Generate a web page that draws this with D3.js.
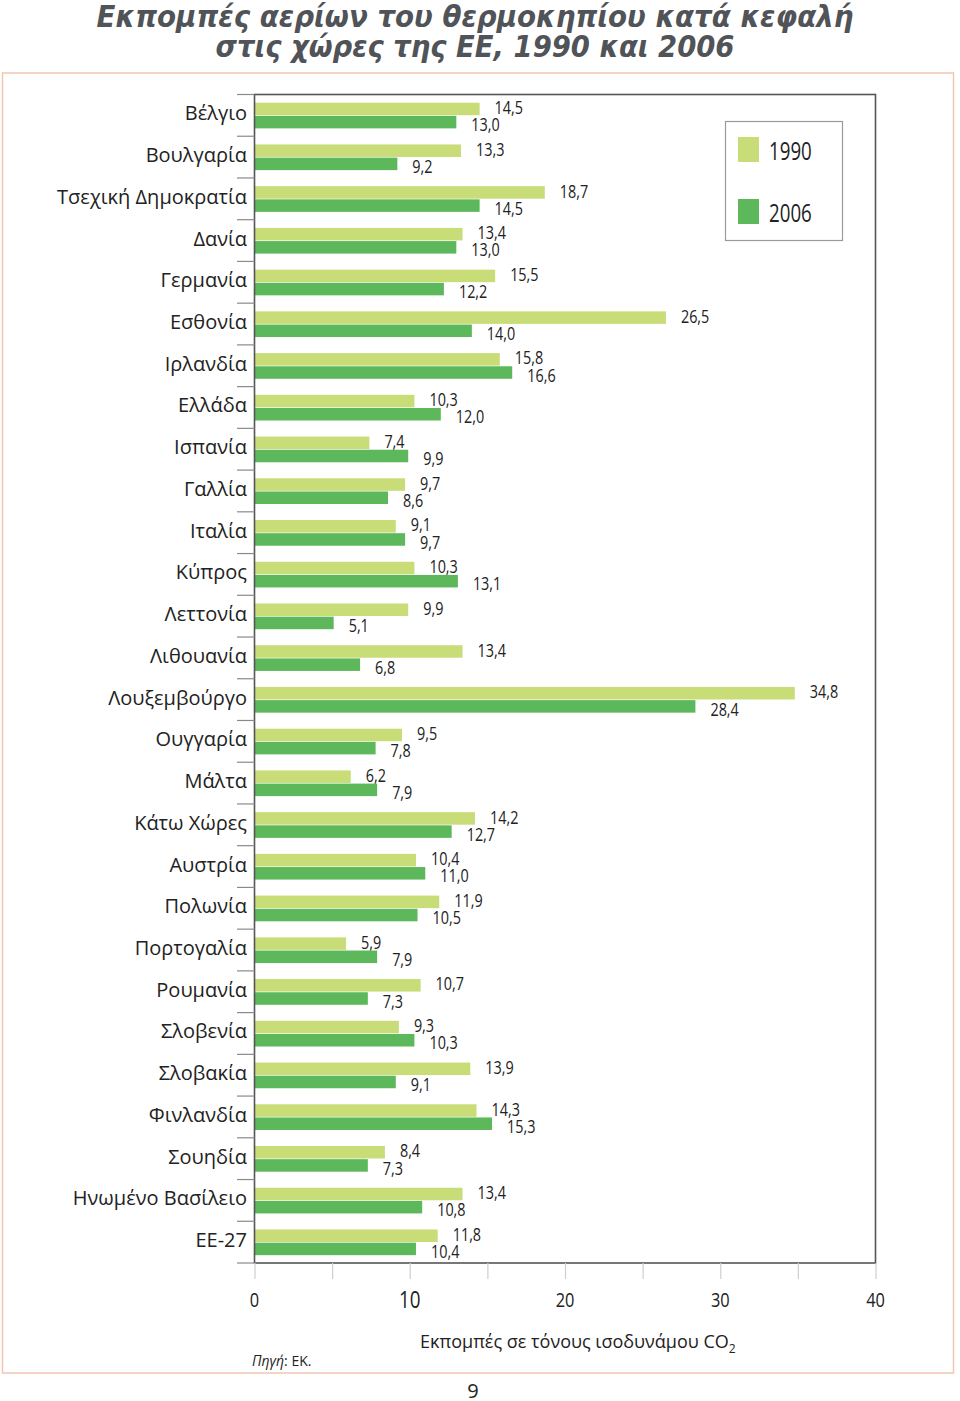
<!DOCTYPE html>
<html><head><meta charset="utf-8">
<script src="https://cdn.jsdelivr.net/npm/d3@7"></script>
<style>
html,body{margin:0;padding:0;background:#fff;}
svg{display:block;}
.cond{font-family:"Open Sans","Noto Sans",sans-serif;}
.cat{font-family:"Open Sans","Noto Sans",sans-serif;}
</style>
</head><body>
<svg id="chart" width="960" height="1401"></svg>
<script>
const categories = ["Βέλγιο","Βουλγαρία","Τσεχική Δημοκρατία","Δανία","Γερμανία","Εσθονία","Ιρλανδία","Ελλάδα","Ισπανία","Γαλλία","Ιταλία","Κύπρος","Λεττονία","Λιθουανία","Λουξεμβούργο","Ουγγαρία","Μάλτα","Κάτω Χώρες","Αυστρία","Πολωνία","Πορτογαλία","Ρουμανία","Σλοβενία","Σλοβακία","Φινλανδία","Σουηδία","Ηνωμένο Βασίλειο","ΕΕ-27"];
const values1990 = [14.5,13.3,18.7,13.4,15.5,26.5,15.8,10.3,7.4,9.7,9.1,10.3,9.9,13.4,34.8,9.5,6.2,14.2,10.4,11.9,5.9,10.7,9.3,13.9,14.3,8.4,13.4,11.8];
const values2006 = [13.0,9.2,14.5,13.0,12.2,14.0,16.6,12.0,9.9,8.6,9.7,13.1,5.1,6.8,28.4,7.8,7.9,12.7,11.0,10.5,7.9,7.3,10.3,9.1,15.3,7.3,10.8,10.4];
const seriesNames = ["1990","2006"];
const xTicks = [0,10,20,30,40];
const xMinorTicks = [0,5,10,15,20,25,30,35,40];
const titleLines = ["Εκπομπές αερίων του θερμοκηπίου κατά κεφαλή","στις χώρες της ΕΕ, 1990 και 2006"];
const colors = {"1990":"#c8dc78","2006":"#5cb85a"};

const svg = d3.select("#chart");
const fmt = v => d3.format(".1f")(v).replace(".", ",");

function condText(parent, x, y, txt, size, sx, anchor){
  return parent.append("text").attr("class","cond")
    .attr("transform",`translate(${x},${y}) scale(${sx},1)`)
    .attr("text-anchor",anchor||"start").attr("dominant-baseline","central")
    .attr("font-size",size).attr("fill","#222").text(txt);
}

// outer border
svg.append("rect").attr("x",2.5).attr("y",73).attr("width",951).attr("height",1300)
  .attr("fill","none").attr("stroke","#f1c6b0").attr("stroke-width",1.5);

// title
const titleTargets = [757, 519];
titleLines.forEach((t,i)=>{
  const tx = svg.append("text").text(t)
    .attr("x",475).attr("y",[27,57][i]).attr("text-anchor","middle")
    .attr("font-family","'DejaVu Sans Condensed','DejaVu Sans',sans-serif")
    .attr("font-weight","bold").attr("font-style","italic")
    .attr("font-size",28).attr("fill","#505357");
  const w = tx.node().getComputedTextLength();
  if (w>0) tx.attr("font-size", 28*titleTargets[i]/w);
});

const x = d3.scaleLinear().domain([0,40]).range([254.5,875.5]);
const y = d3.scaleBand().domain(categories).range([94.5,1263]).padding(0);
const ySub = d3.scaleBand().domain(seriesNames).range([8.2,33.9]).paddingInner(0.05);

const data = categories.map((c,i)=>({cat:c, v:{"1990":values1990[i],"2006":values2006[i]}}));

const g = svg.append("g");
data.forEach(d=>{
  seriesNames.forEach(s=>{
    g.append("rect")
      .attr("x", x(0)).attr("y", y(d.cat)+ySub(s))
      .attr("width", x(d.v[s])-x(0)).attr("height", ySub.bandwidth())
      .attr("fill", colors[s]);
    condText(g, x(d.v[s])+15, y(d.cat)+ySub(s)+ySub.bandwidth()/2 + (s==="1990"?-1.5:2.5),
      fmt(d.v[s]), 18, 0.8);
  });
});

// frame
svg.append("rect").attr("x",x(0)).attr("y",94.5).attr("width",x(40)-x(0)).attr("height",1263-94.5)
  .attr("fill","none").attr("stroke","#555").attr("stroke-width",1.6);

// left band ticks
const bounds = categories.map(c=>y(c)).concat([1263]);
svg.append("g").selectAll("line").data(bounds).join("line")
  .attr("x1",237).attr("x2",x(0)).attr("y1",d=>d).attr("y2",d=>d)
  .attr("stroke","#8a8a8a").attr("stroke-width",1.2);

// category labels
svg.append("g").selectAll("text").data(categories).join("text").attr("class","cat")
  .attr("x",247).attr("y",d=>y(d)+y.bandwidth()/2-2.5)
  .attr("text-anchor","end").attr("dominant-baseline","central")
  .attr("font-size",20).attr("fill","#222").text(d=>d);

// x axis ticks
const xAxis = d3.axisBottom(x).tickValues(xMinorTicks).tickSize(16).tickFormat("");
const ax = svg.append("g").attr("transform","translate(0,1263)").call(xAxis);
ax.select(".domain").remove();
ax.selectAll(".tick line").attr("stroke","#cfcfcf").attr("stroke-width",1.2);

const tg = svg.append("g");
xTicks.forEach(t=>{
  condText(tg, x(t), 1299, t, t===10?23:20, 0.82, "middle");
});

// legend
svg.append("rect").attr("x",725.5).attr("y",121.5).attr("width",117).attr("height",119)
  .attr("fill","#fff").attr("stroke","#9a9a9a").attr("stroke-width",1.2);
seriesNames.forEach((s,i)=>{
  svg.append("rect").attr("x",738).attr("y",[137,199][i]).attr("width",21).attr("height",25).attr("fill",colors[s]);
  condText(svg, 769, [150,212][i], s, 26, 0.72);
});

// axis title
const at = svg.append("text").attr("class","cat").attr("x",420).attr("y",1348)
  .attr("font-size",18).attr("fill","#222");
at.append("tspan").text("Εκπομπές σε τόνους ισοδυνάμου CO");
at.append("tspan").attr("dy",5).attr("font-size",12).text("2");

// source
const src = svg.append("text").attr("class","cat").attr("x",252).attr("y",1366)
  .attr("font-size",14).attr("fill","#222");
src.append("tspan").attr("font-style","italic").text("Πηγή");
src.append("tspan").text(": ΕΚ.");

// page number
svg.append("text").attr("class","cat").attr("x",473).attr("y",1390).attr("text-anchor","middle")
  .attr("dominant-baseline","central").attr("font-size",20).attr("fill","#222").text("9");
</script>
</body></html>
